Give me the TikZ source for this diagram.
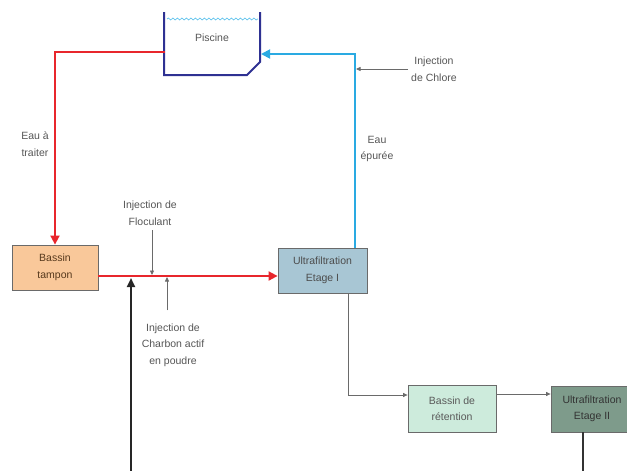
\documentclass[tikz,border=0pt]{standalone}
\usepackage{fontspec}
\setmainfont{Liberation Sans}
\usetikzlibrary{arrows.meta,decorations.pathmorphing}

\definecolor{flowred}{HTML}{E8262C}
\definecolor{flowblue}{HTML}{2AAAE2}
\definecolor{poolblue}{HTML}{2E3192}
\definecolor{wavecol}{HTML}{5EC2EC}
\definecolor{labelgray}{HTML}{555555}
\definecolor{linegray}{HTML}{6A6A6A}
\definecolor{peach}{HTML}{F9C89A}
\definecolor{steel}{HTML}{A8C6D4}
\definecolor{mint}{HTML}{CDEBDC}
\definecolor{sage}{HTML}{7E9B8B}

\tikzset{
  lbl/.style={font=\fontsize{10.5}{16.5}\selectfont, text=labelgray, align=center, inner sep=0pt},
  unit/.style={draw=linegray, line width=0.8pt, align=center, inner sep=0pt,
    font=\fontsize{10.5}{16.5}\selectfont},
  redflow/.style={draw=flowred, line width=1.8pt, -{Triangle[length=9pt,width=9pt]}},
  blueflow/.style={draw=flowblue, line width=1.8pt, -{Triangle[length=9pt,width=9pt]}},
  dose/.style={draw=linegray, line width=0.7pt, -{Triangle[length=4.5pt,width=4pt]}},
  feed/.style={draw=black!85, line width=2.2pt, -{Triangle[length=9pt,width=8pt]}},
  pool/.style={draw=poolblue, line width=2pt, line join=miter},
}

\begin{document}
\begin{tikzpicture}[x=1pt,y=-1pt]
\useasboundingbox (0,0) rectangle (627,471);
\clip (0,0) rectangle (627,471);

% swimming pool
\draw[wavecol, line width=0.7pt, decorate,
      decoration={snake, amplitude=1pt, segment length=4.5pt}] (167,19) -- (258,19);
\draw[pool] (164,12) -- (164,75) -- (247,75) -- (260,62) -- (260,12);
\node[lbl] (piscine) at (212,38) {Piscine};
\coordinate (poolout) at (165,52);
\coordinate (poolin) at (261,54);

% process units
\node[unit, fill=peach, text=black!55!brown, minimum width=86pt, minimum height=45pt]
  (tampon) at (55,267.5) {Bassin\\tampon};
\node[unit, fill=steel, text=black!70, minimum width=89pt, minimum height=45pt]
  (uf1) at (322.5,270.5) {Ultrafiltration\\Etage I};
\node[unit, fill=mint, text=black!65, minimum width=88pt, minimum height=47pt]
  (retention) at (452,408.5) {Bassin de\\rétention};
\node[unit, fill=sage, text=black!80, minimum width=82pt, minimum height=46pt]
  (uf2) at (592,409) {Ultrafiltration\\Etage II};

% labels
\node[lbl] (traiter) at (35,144) {Eau à\\traiter};
\node[lbl] (epuree) at (377,149) {Eau\\épurée};
\node[lbl] (chlore) at (434,69) {Injection\\de Chlore};
\node[lbl] (floc) at (150,213) {Injection de\\Floculant};
\node[lbl] (charbon) at (173,345) {Injection de\\Charbon actif\\en poudre};

% junction points
\coordinate (bluecorner) at (355,54);
\coordinate (chlorept) at (356,69);
\coordinate (flocpt) at (152,275);
\coordinate (charbpt) at (167,277);
\coordinate (feedpt) at (131,278);
\coordinate (feedsrc) at (131,471);
\coordinate (ufdrop) at (348,395);
\coordinate (uf2out) at (583,471);

% main flows
\draw[redflow] (poolout) -| (tampon.north);
\draw[redflow] (tampon.east |- 0,276) -- (uf1.west |- 0,276);
\draw[blueflow] (uf1.north -| bluecorner) -- (bluecorner) -- (poolin);

% injections
\draw[dose] (chlore.west |- chlorept) ++(-3,0) -- (chlorept);
\draw[dose] (floc.south -| flocpt) ++(0,5) -- (flocpt);
\draw[dose] (charbon.north -| charbpt) ++(0,-13) -- (charbpt);
\draw[feed] (feedsrc) -- (feedpt);

% second stage
\draw[dose] (uf1.south -| ufdrop) -- (ufdrop) -- (retention.west |- ufdrop);
\draw[dose] (retention.east |- 0,394) -- (uf2.west |- 0,394);
\draw[draw=black!80, line width=1.6pt] (uf2.south -| uf2out) -- (uf2out);
\end{tikzpicture}
\end{document}
